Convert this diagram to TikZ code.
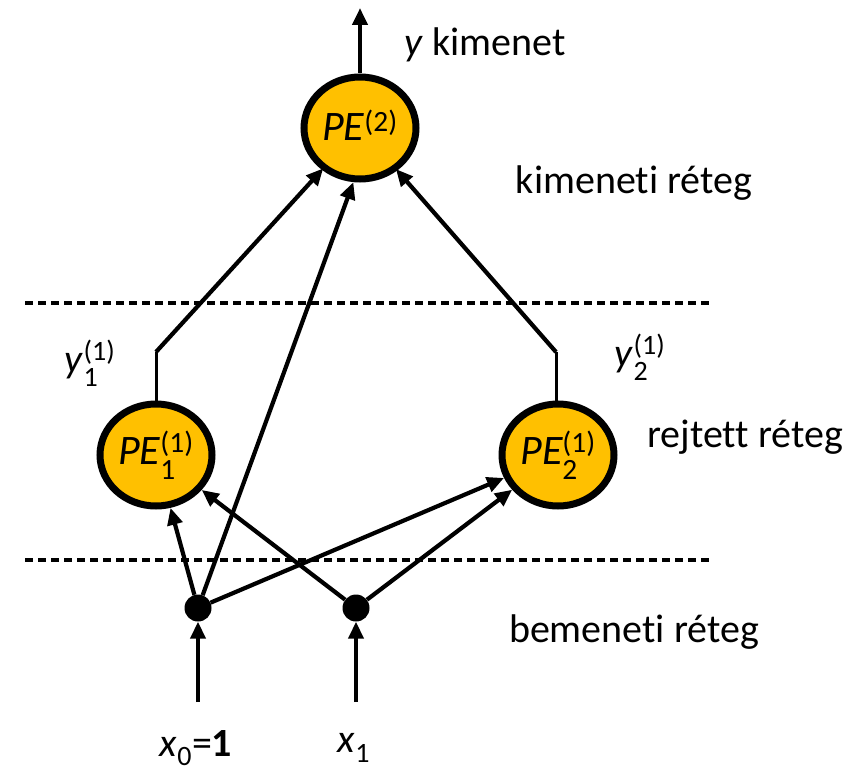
\documentclass[tikz,border=0pt]{standalone}
\usepackage{amsmath}
\usepackage{fontspec}
\setmainfont{Carlito}[RawFeature=-liga]
\usetikzlibrary{shapes.geometric,arrows.meta}
\definecolor{peorange}{HTML}{FFC000}
\newcommand\pesupsub[2]{$^{\text{\upshape #1}}_{\text{\upshape #2}}$}
\tikzset{
  pe/.style={ellipse, draw=black, line width=7pt, fill=peorange, minimum width=112pt, minimum height=102pt, inner sep=0pt, font=\fontsize{42}{46}\selectfont\itshape},
  indot/.style={circle, fill=black, minimum size=27pt, inner sep=0pt},
  conn/.style={line width=4.2pt, -{Triangle[length=17pt,width=15pt]}},
  plain/.style={line width=3pt},
  layer/.style={line width=3.4pt, dash pattern=on 8pt off 5pt},
  lbl/.style={font=\fontsize{40}{44}\selectfont, inner sep=0pt},
}
\begin{document}
\begin{tikzpicture}[x=1pt,y=-1pt]
\useasboundingbox (0,0) rectangle (862,773);
% layer separators
\coordinate (d1a) at (25,303); \coordinate (d1b) at (710,303);
\coordinate (d2a) at (25,560); \coordinate (d2b) at (710,560);
\draw[layer] (d1a) -- (d1b);
\draw[layer] (d2a) -- (d2b);
% nodes
\node[pe] (pe2) at (360,128) {PE\pesupsub{(2)}{}};
\node[pe] (pe11) at (156,455) {PE\pesupsub{(1)}{1}};
\node[pe] (pe12) at (558,455) {PE\pesupsub{(1)}{2}};
\node[indot] (in0) at (198,608) {};
\node[indot] (in1) at (356,608) {};
% coordinates
\coordinate (out) at (360,8);
\coordinate (b1) at (156,352);
\coordinate (b2) at (556,352);
\coordinate (s0) at (198,702);
\coordinate (s1) at (356,702);
% output
\draw[conn] (pe2.north) -- (out);
% hidden to output
\draw[plain] (pe11.north) -- (b1);
\draw[conn, shorten >=-2pt] (b1) -- (pe2);
\draw[plain] (pe12.north -| b2) -- (b2);
\draw[conn, shorten >=-2pt] (b2) -- (pe2);
% inputs
\draw[conn] (s0) -- (in0);
\draw[conn] (s1) -- (in1);
\draw[conn] (in0) -- (pe11);
\draw[conn] (in0) -- (pe2.263);
\draw[conn] (in0) -- (pe12);
\draw[conn] (in1) -- (pe11);
\draw[conn] (in1) -- (pe12);
% labels
\node[lbl, anchor=west] (ly) at (404,45) {\textit{y} kimenet};
\node[lbl] (lk) at (634,183) {kimeneti réteg};
\node[lbl] (lr) at (745,437) {rejtett réteg};
\node[lbl] (lb) at (634,632) {bemeneti réteg};
\node[lbl] (ly1) at (90,363) {\textit{y}\pesupsub{(1)}{1}};
\node[lbl] (ly2) at (640,357) {\textit{y}\pesupsub{(1)}{2}};
\node[lbl] (lx0) at (196,748) {\textit{x}\textsubscript{0}=\textbf{1}};
\node[lbl] (lx1) at (354,748) {\textit{x}\textsubscript{1}};
\end{tikzpicture}
\end{document}
